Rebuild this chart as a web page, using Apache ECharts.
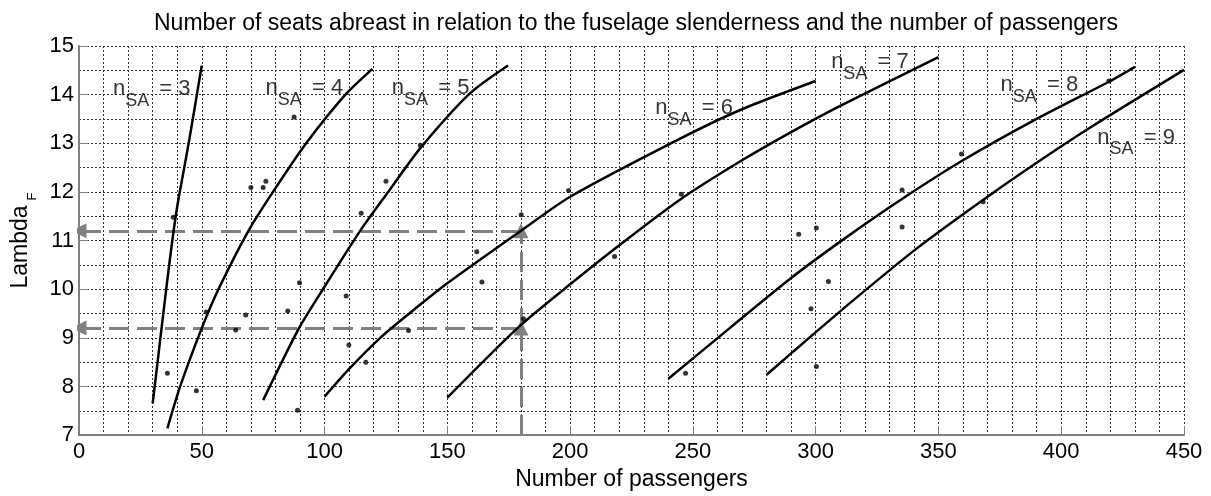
<!DOCTYPE html>
<html>
<head>
<meta charset="utf-8">
<script src="https://cdn.jsdelivr.net/npm/echarts@6/dist/echarts.min.js"></script>
<style>
html, body { margin: 0; padding: 0; background: #fff; }
#chart { width: 1211px; height: 496px; }
</style>
</head>
<body>
<div id="chart"></div>
<script>
// axis ranges
const xMin = 0, xMax = 450, xStep = 50
const yMin = 7, yMax = 15, yStep = 1

// n_SA curves, [passengers, lambda]
const curve3 = [[30, 7.65], [32, 8.5], [34, 9.36], [36, 10.2], [38, 11.0], [40, 11.7], [42.5, 12.4], [45, 13.1], [47.5, 13.85], [50, 14.6]]
const curve4 = [[36, 7.14], [41.2, 8], [50, 9.2], [56.8, 10], [69, 11.2], [79, 12], [92.5, 13], [108.5, 14], [119.5, 14.53]]
const curve5 = [[75, 7.72], [89.6, 9.2], [99.6, 10.02], [114.5, 11.2], [126.5, 12.04], [139, 12.9], [159.3, 14.03], [174.7, 14.6]]
const curve6 = [[100, 7.79], [110, 8.36], [122.7, 9.0], [135, 9.52], [150, 10.12], [180, 11.2], [200, 11.9], [245, 13.1], [270, 13.7], [300, 14.28]]
const curve7 = [[150, 7.77], [179, 9.22], [200, 10.1], [222, 10.98], [245, 11.85], [270, 12.65], [290, 13.23], [310, 13.77], [350, 14.77]]
const curve8 = [[240, 8.16], [265, 9.2], [290, 10.23], [312, 11.05], [335, 11.85], [360, 12.65], [390, 13.5], [420, 14.28], [430, 14.57]]
const curve9 = [[280, 8.24], [290, 8.68], [316, 9.8], [342, 10.87], [368, 11.83], [390, 12.6], [412, 13.33], [450, 14.51]]

// aircraft data points
const aircraft = [
  [36, 8.27], [38.4, 11.48], [47.8, 7.91], [51.8, 9.53], [63.8, 9.16], [67.9, 9.47],
  [70, 12.09], [75, 12.09], [76.1, 12.22], [87.6, 13.54], [85, 9.55], [89.8, 10.13],
  [89, 7.51], [108.8, 9.86], [109.9, 8.85], [116.8, 8.5], [114.9, 11.56], [125, 12.22],
  [134.2, 9.15], [139, 12.96], [162, 10.77], [164.1, 10.15], [180.1, 11.53], [181, 9.39],
  [199.4, 12.03], [218.1, 10.67], [245.3, 11.95], [247, 8.27], [293.1, 11.13], [300.3, 11.26],
  [298.1, 9.6], [300.3, 8.41], [305.2, 10.16], [335.2, 12.04], [335.2, 11.28], [359.4, 12.78],
  [368.2, 11.8], [419.4, 14.28]
]

// curve labels: [x, lambda, seats]
const curveLabels = [[13.85, 14.11, 3], [76, 14.13, 4], [127.4, 14.14, 5], [234.7, 13.72, 6], [306.3, 14.67, 7], [375.3, 14.19, 8], [414.7, 13.12, 9]]

// reading example (dashed arrows)
const readX = 180
const readLow = 9.2, readHigh = 11.2

const font = 'Liberation Sans, Arial, sans-serif'
const grey = '#808080'
const gridLine = { show: true, lineStyle: { color: '#333', width: 1, type: [2, 2] } }

const chart = echarts.init(document.getElementById('chart'))

const curveSeries = [curve3, curve4, curve5, curve6, curve7, curve8, curve9].map(c => ({
  type: 'line',
  data: c,
  smooth: 0.25,
  showSymbol: false,
  silent: true,
  z: 4,
  lineStyle: { color: '#000', width: 2.5 }
}))

const option = {
  animation: false,
  title: {
    text: 'Number of seats abreast in relation to the fuselage slenderness and the number of passengers',
    left: 631,
    top: 7,
    textAlign: 'center',
    textStyle: { fontFamily: font, fontSize: 23, fontWeight: 'normal', color: '#000' }
  },
  grid: { left: 79, right: 27, top: 46, bottom: 55 },
  xAxis: {
    type: 'value',
    min: xMin, max: xMax, interval: xStep,
    name: 'Number of passengers',
    nameLocation: 'middle',
    nameGap: 27,
    nameTextStyle: { fontFamily: font, fontSize: 23, color: '#000' },
    axisLine: { show: true, lineStyle: { color: grey, width: 2 } },
    axisTick: { show: true, inside: true, length: 9, lineStyle: { color: grey, width: 1 } },
    axisLabel: { fontFamily: font, fontSize: 22, color: '#000', margin: 6 },
    splitLine: gridLine,
    minorTick: { show: false, splitNumber: 5 },
    minorSplitLine: gridLine
  },
  yAxis: {
    type: 'value',
    min: yMin, max: yMax, interval: yStep,
    name: 'Lambda{f|F}',
    nameLocation: 'middle',
    nameGap: 39,
    nameTextStyle: {
      fontFamily: font, fontSize: 23, color: '#000',
      rich: { f: { fontFamily: font, fontSize: 13, color: '#000', padding: [22, 0, 0, 5] } }
    },
    axisLine: { show: true, lineStyle: { color: grey, width: 2 } },
    axisTick: { show: true, inside: true, length: 9, lineStyle: { color: grey, width: 1 } },
    axisLabel: { fontFamily: font, fontSize: 22, color: '#000', margin: 5 },
    splitLine: gridLine,
    minorTick: { show: false, splitNumber: 2 },
    minorSplitLine: gridLine
  },
  series: [
    {
      type: 'lines',
      coordinateSystem: 'cartesian2d',
      silent: true,
      z: 3,
      symbol: ['none', 'triangle'],
      symbolSize: 15,
      symbolOffset: [0, 7],
      lineStyle: { color: grey, width: 3, type: [20, 8], opacity: 1 },
      data: [
        { coords: [[readX, readHigh], [xMin, readHigh]] },
        { coords: [[readX, readLow], [xMin, readLow]] },
        { coords: [[readX, yMin], [readX, readLow]] },
        { coords: [[readX, readLow], [readX, readHigh]] }
      ]
    },
    ...curveSeries,
    {
      type: 'scatter',
      data: aircraft,
      symbolSize: 5,
      silent: true,
      z: 5,
      itemStyle: { color: '#000' }
    },
    {
      type: 'scatter',
      data: curveLabels,
      symbolSize: 0,
      silent: true,
      z: 6,
      label: {
        show: true,
        position: 'right',
        distance: 0,
        formatter: p => 'n{sub|SA} = ' + p.data[2],
        fontFamily: font,
        fontSize: 22,
        color: '#000',
        rich: { sub: { fontFamily: font, fontSize: 18, color: '#000', padding: [24, 4, 0, 0] } }
      }
    }
  ]
}

chart.setOption(option)
</script>
</body>
</html>
